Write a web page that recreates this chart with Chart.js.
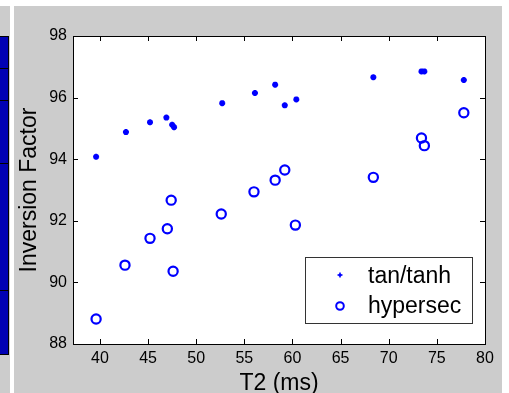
<!DOCTYPE html>
<html>
<head>
<meta charset="utf-8">
<script src="https://cdn.jsdelivr.net/npm/chart.js@4/dist/chart.umd.min.js"></script>
<style>
  html, body { margin: 0; padding: 0; background: #fff; }
  #wrap { position: relative; width: 509px; height: 393px; }
</style>
</head>
<body>
<div id="wrap"><canvas id="chart"></canvas></div>
<script>
// Data
const tanX = [39.6, 42.7, 45.2, 46.9, 47.5, 47.7, 52.7, 56.1, 58.2, 59.2, 60.4, 68.4, 73.4, 73.7, 77.8];
const tanY = [94.08, 94.88, 95.20, 95.35, 95.12, 95.04, 95.82, 96.15, 96.42, 95.75, 95.94, 96.66, 96.85, 96.85, 96.57];
const hypX = [39.6, 42.6, 45.2, 47.0, 47.4, 47.6, 52.6, 56.0, 58.2, 59.2, 60.3, 68.4, 73.4, 73.7, 77.8];
const hypY = [88.81, 90.56, 91.43, 91.74, 92.67, 90.36, 92.22, 92.94, 93.32, 93.65, 91.86, 93.41, 94.69, 94.44, 95.51];

const seriesNames = ['tan/tanh', 'hypersec'];
const xTicks = [40, 45, 50, 55, 60, 65, 70, 75, 80];
const yTicks = [88, 90, 92, 94, 96, 98];

const FONT = '"Liberation Sans", Arial, Helvetica, sans-serif';
const BLUE = '#0000ff';

function toPoints(xs, ys) {
    return xs.map((x, i) => ({ x: x, y: ys[i] }));
}

// figure background (grey MATLAB figure, side panel)
const figureBg = {
    id: 'figureBg',
    beforeDraw(chart) {
        const ctx = chart.ctx;
        const ca = chart.chartArea;
        ctx.save();
        ctx.fillStyle = '#ffffff';
        ctx.fillRect(0, 0, chart.width, chart.height);
        ctx.fillStyle = '#cccccc';
        ctx.fillRect(14, 6, 488, 387);
        ctx.fillRect(0, 6, 10, 387);
        // neighbouring panel (cut off)
        ctx.fillStyle = '#0000b4';
        ctx.fillRect(0, 36, 9, 319);
        ctx.strokeStyle = '#000';
        ctx.lineWidth = 1;
        ctx.strokeRect(-1, 36.5, 9.5, 318);
        [68, 100, 163, 290].forEach(y => {
            ctx.beginPath();
            ctx.moveTo(0, y + 0.5);
            ctx.lineTo(9, y + 0.5);
            ctx.stroke();
        });
        ctx.fillStyle = '#ffffff';
        ctx.fillRect(ca.left, ca.top, ca.right - ca.left, ca.bottom - ca.top);
        ctx.restore();
    }
};

// axes box with inward ticks + legend
const matlabAxes = {
    id: 'matlabAxes',
    afterDraw(chart) {
        const ctx = chart.ctx;
        const ca = chart.chartArea;
        const xs = chart.scales.x;
        const ys = chart.scales.y;
        const L = Math.round(ca.left), R = Math.round(ca.right);
        const T = Math.round(ca.top), B = Math.round(ca.bottom);
        ctx.save();
        ctx.strokeStyle = '#000';
        ctx.lineWidth = 1;
        ctx.strokeRect(L + 0.5, T + 0.5, R - L, B - T);
        ctx.beginPath();
        xTicks.forEach(v => {
            const px = Math.round(xs.getPixelForValue(v)) + 0.5;
            ctx.moveTo(px, B);
            ctx.lineTo(px, B - 5);
            ctx.moveTo(px, T);
            ctx.lineTo(px, T + 5);
        });
        yTicks.forEach(v => {
            const py = Math.round(ys.getPixelForValue(v)) + 0.5;
            ctx.moveTo(L, py);
            ctx.lineTo(L + 5, py);
            ctx.moveTo(R, py);
            ctx.lineTo(R - 5, py);
        });
        ctx.stroke();

        // legend box
        ctx.fillStyle = '#ffffff';
        ctx.fillRect(305, 257, 167, 66);
        ctx.strokeStyle = '#333';
        ctx.strokeRect(305.5, 257.5, 167, 66);

        // legend markers
        ctx.strokeStyle = BLUE;
        ctx.fillStyle = BLUE;
        ctx.lineWidth = 1.5;
        ctx.beginPath();
        ctx.moveTo(337.5, 275); ctx.lineTo(342.5, 275);
        ctx.moveTo(340, 272.5); ctx.lineTo(340, 277.5);
        ctx.stroke();
        ctx.beginPath();
        ctx.arc(340, 275, 1.6, 0, Math.PI * 2);
        ctx.fill();
        ctx.lineWidth = 2;
        ctx.beginPath();
        ctx.arc(340, 306, 3.8, 0, Math.PI * 2);
        ctx.stroke();

        ctx.fillStyle = '#000';
        ctx.font = '23px ' + FONT;
        ctx.textBaseline = 'alphabetic';
        ctx.textAlign = 'left';
        ctx.fillText(seriesNames[0], 368, 283);
        ctx.fillText(seriesNames[1], 368, 313);
        ctx.restore();
    }
};

new Chart(document.getElementById('chart'), {
    type: 'scatter',
    data: {
        datasets: [
            {
                label: seriesNames[0],
                data: toPoints(tanX, tanY),
                pointStyle: 'star',
                radius: 3,
                borderWidth: 2,
                borderColor: BLUE,
                backgroundColor: BLUE
            },
            {
                label: seriesNames[1],
                data: toPoints(hypX, hypY),
                pointStyle: 'circle',
                radius: 4.6,
                borderWidth: 2.2,
                borderColor: BLUE,
                backgroundColor: 'rgba(0,0,0,0)'
            }
        ]
    },
    options: {
        responsive: true,
        maintainAspectRatio: false,
        animation: false,
        layout: { padding: { top: 36, right: 24, left: 0, bottom: 0 } },
        plugins: {
            legend: { display: false },
            tooltip: { enabled: false }
        },
        scales: {
            x: {
                type: 'linear',
                min: 37.2,
                max: 80,
                afterBuildTicks: s => { s.ticks = xTicks.map(v => ({ value: v })); },
                afterFit: s => { s.height = 49; },
                grid: { display: false, drawTicks: false },
                border: { display: false },
                ticks: {
                    padding: 5,
                    color: '#000',
                    maxRotation: 0,
                    font: { family: FONT, size: 16 }
                },
                title: {
                    display: true,
                    text: 'T2 (ms)',
                    color: '#000',
                    padding: { top: 0, bottom: -1.9 },
                    font: { family: FONT, size: 23, lineHeight: 1 }
                }
            },
            y: {
                type: 'linear',
                min: 88,
                max: 98,
                afterBuildTicks: s => { s.ticks = yTicks.map(v => ({ value: v })); },
                afterFit: s => { s.width = 73; },
                grid: { display: false, drawTicks: false },
                border: { display: false },
                ticks: {
                    padding: 6,
                    color: '#000',
                    font: { family: FONT, size: 16 }
                },
                title: {
                    display: true,
                    text: 'Inversion Factor',
                    color: '#000',
                    padding: { top: 18.5, bottom: 0 },
                    font: { family: FONT, size: 23, lineHeight: 1 }
                }
            }
        }
    },
    plugins: [figureBg, matlabAxes]
});
</script>
</body>
</html>
